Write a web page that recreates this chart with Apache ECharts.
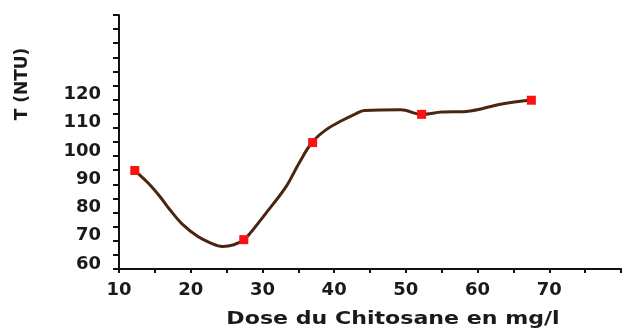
<!DOCTYPE html>
<html>
<head>
<meta charset="utf-8">
<script src="https://cdn.jsdelivr.net/npm/echarts@6/dist/echarts.min.js"></script>
<style>
  html, body { margin: 0; padding: 0; background: #fff; }
  #chart { width: 624px; height: 330px; }
</style>
</head>
<body>
<div id="chart"></div>
<script>
// measured points (red squares)
var dose_points = [12.2, 27.4, 37.0, 52.2, 67.5];
var turb_points = [89.9, 65.4, 99.8, 109.8, 114.8];

// fitted curve
var curve_dose = [12.2, 14.1, 15.7, 17.1, 18.9, 21.0, 22.8, 24.4, 26.0, 27.4, 28.3, 30.5, 33.3, 35.1, 36.9, 38.8, 41.1, 43.0, 44.2, 49.3, 52.2, 55.0, 58.4, 63.4, 67.5];
var curve_turb = [89.9, 85.4, 80.7, 76.0, 70.7, 66.5, 64.2, 63.0, 63.6, 65.4, 67.7, 74.8, 84.2, 92.5, 99.8, 104.2, 107.6, 110.0, 111.2, 111.4, 109.8, 110.6, 110.8, 113.5, 114.9];

var y_labels = [60, 70, 80, 90, 100, 110, 120];
var x_labels = [10, 20, 30, 40, 50, 60, 70];

var pairs = function(xs, ys){
  var out = [];
  for (var i = 0; i < xs.length; i++) out.push([xs[i], ys[i]]);
  return out;
};

var font_fam = '"DejaVu Sans", sans-serif';

var myChart = echarts.init(document.getElementById('chart'));

var option = {
  backgroundColor: '#fff',
  animation: false,
  grid: { left: 119, right: -7, top: 15, bottom: 61, containLabel: false },
  xAxis: {
    type: 'value',
    min: 10, max: 80, interval: 5,
    axisLine: { lineStyle: { color: '#111', width: 2 } },
    axisTick: { length: 4, lineStyle: { color: '#111', width: 2 } },
    splitLine: { show: false },
    axisLabel: {
      margin: 12,
      color: '#1a1a1a', fontFamily: font_fam, fontWeight: 'bold', fontSize: 18,
      formatter: function(v){ return x_labels.indexOf(v) >= 0 ? String(v) : ''; }
    }
  },
  yAxis: {
    type: 'value',
    min: 55, max: 145, interval: 5,
    axisLine: { lineStyle: { color: '#111', width: 2 } },
    axisTick: { length: 6, lineStyle: { color: '#111', width: 2 } },
    splitLine: { show: false },
    axisLabel: {
      margin: 18, verticalAlign: 'top',
      color: '#1a1a1a', fontFamily: font_fam, fontWeight: 'bold', fontSize: 18,
      formatter: function(v){ return y_labels.indexOf(v) >= 0 ? String(v) : ''; }
    }
  },
  graphic: [
    {
      type: 'text', x: 393, y: 320, scaleX: 1.3,
      style: {
        text: 'Dose du Chitosane en mg/l', fill: '#1a1a1a',
        font: 'bold 17px ' + font_fam, align: 'center', verticalAlign: 'middle'
      }
    },
    {
      type: 'text', x: 23, y: 84, rotation: Math.PI / 2,
      style: {
        text: 'T (NTU)', fill: '#1a1a1a',
        font: 'bold 17px ' + font_fam, align: 'center', verticalAlign: 'middle'
      }
    }
  ],
  series: [
    {
      type: 'line',
      data: pairs(curve_dose, curve_turb),
      smooth: 0.35,
      showSymbol: false,
      lineStyle: { color: '#4a2510', width: 3 },
      z: 2
    },
    {
      type: 'scatter',
      data: pairs(dose_points, turb_points),
      symbol: 'rect',
      symbolSize: 9,
      itemStyle: { color: '#ff0f0f', opacity: 1 },
      z: 3
    }
  ]
};

myChart.setOption(option);
</script>
</body>
</html>
